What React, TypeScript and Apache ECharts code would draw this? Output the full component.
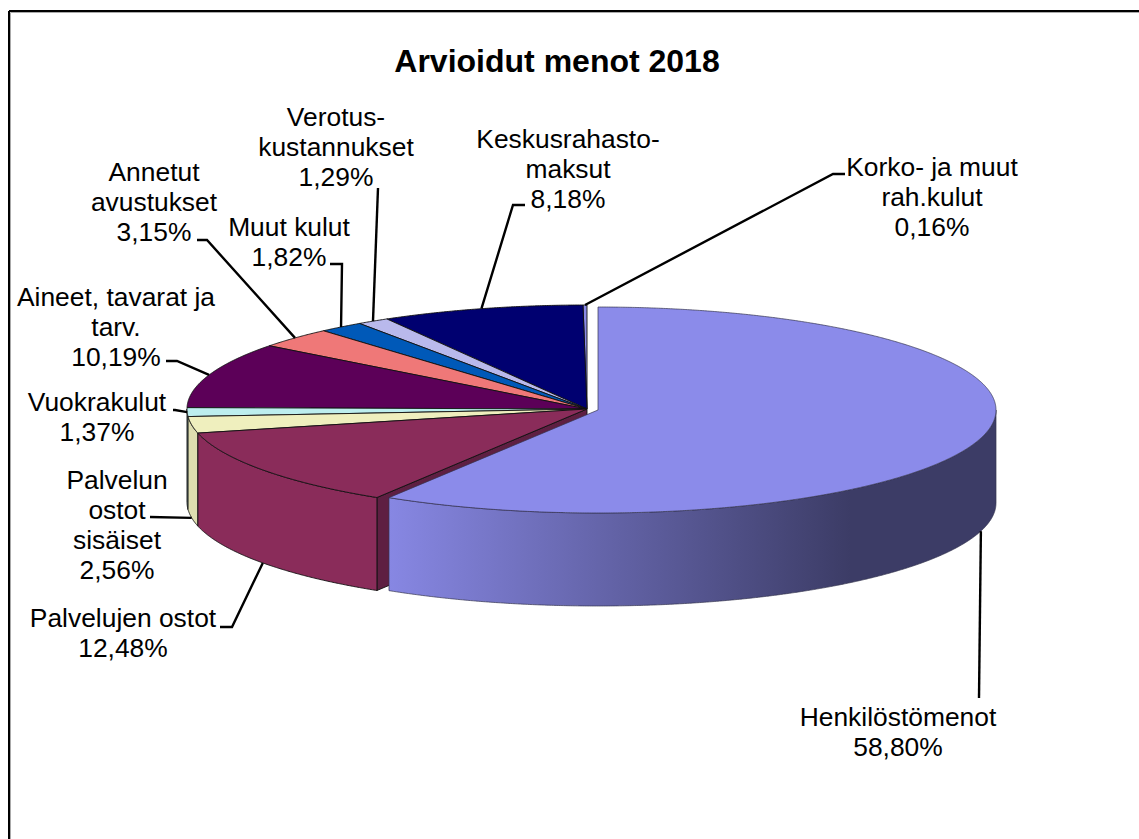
import React, { useEffect, useRef } from "react";
import * as echarts from "echarts";

const TITLE = "Arvioidut menot 2018";
const categories = [
  "Henkilöstömenot",
  "Palvelujen ostot",
  "Palvelun\nostot\nsisäiset",
  "Vuokrakulut",
  "Aineet, tavarat ja\ntarv.",
  "Annetut\navustukset",
  "Muut kulut",
  "Verotus-\nkustannukset",
  "Keskusrahasto-\nmaksut",
  "Korko- ja muut\nrah.kulut",
];
const values = [58.8, 12.48, 2.56, 1.37, 10.19, 3.15, 1.82, 1.29, 8.18, 0.16];
const topColors = ["#8b8bea", "#8a2c5a", "#efefbe", "#bdeeee", "#5c0058", "#ef7878", "#0059b8", "#b9b9ec", "#000070", "#8a8ae6"];
const wallColors = ["", "#8a2c5a", "#dedeb0", "#a8d4d4", "#4e004a", "#cc6666", "#004c9c", "#9d9dc8", "#000060", "#7575c4"];

// layout of the labels: [centre x, first line centre y]
const labelPos: [number, number][] = [
  [898, 717], [123, 618], [117, 480], [97, 402], [116, 297],
  [154, 172], [289, 227], [336, 117], [568, 139], [932, 167],
];
// leader lines: elbow points from the slice rim out to the label
const elbows: [number, number][][] = [
  [[979, 698]],
  [[232, 627], [220, 627]],
  [[150, 517]],
  [[175, 410], [173, 410]],
  [[177, 361], [166, 361]],
  [[207, 240], [197, 240]],
  [[342, 264], [330, 264]],
  [[378, 188]],
  [[513, 205], [525, 205]],
  [[833, 174], [845, 174]],
];

const DEPTH = 93;
const LINE_H = 30;
const FONT = '"Liberation Sans", Arial, sans-serif';

const total = values.reduce((a, b) => a + b, 0);
const starts: number[] = [];
values.reduce((acc, v, i) => { starts[i] = acc; return acc + v; }, 0);
const toDeg = (v: number) => (v / total) * 360;

const geom = (i: number) =>
  i === 0 ? { cx: 598, cy: 410, rx: 398, ry: 103 } : { cx: 587, cy: 409, rx: 400, ry: 104 };
const rim = (i: number, deg: number, dy = 0): [number, number] => {
  const { cx, cy, rx, ry } = geom(i);
  const a = (deg * Math.PI) / 180;
  return [cx + rx * Math.sin(a), cy - ry * Math.cos(a) + dy];
};
const arc = (i: number, from: number, to: number, dy = 0) => {
  const pts: [number, number][] = [];
  const n = Math.max(2, Math.ceil((to - from) / 0.25));
  for (let k = 0; k <= n; k++) pts.push(rim(i, from + ((to - from) * k) / n, dy));
  return pts;
};

function renderSlice(params: any, api: any) {
  const i = api.value(0) as number;
  const a0 = toDeg(starts[i]);
  const a1 = a0 + toDeg(api.value(1) as number);
  const { cx, cy } = geom(i);
  const children: any[] = [];
  const line = i === 0 ? "#33334d" : "#111";
  const lw = i === 0 ? 0.7 : 0.9;
  // cut face of the remaining pie, seen where the big slice was pulled out
  if (i === 1) {
    const p = rim(i, a0);
    children.push({
      type: "polygon",
      shape: { points: [[cx, cy], p, [p[0], p[1] + DEPTH], [cx, cy + DEPTH]] },
      style: { fill: "#5e1f42", stroke: "#111", lineWidth: 0.9 },
    });
  }
  const w0 = Math.max(a0, 90), w1 = Math.min(a1, 270);
  if (w1 > w0) {
    const top = arc(i, w0, w1);
    const bottom = arc(i, w0, w1, DEPTH).reverse();
    const fill = i === 0
      ? new echarts.graphic.LinearGradient(0, 0, 1, 0, [
          { offset: 0, color: "#8787e3" },
          { offset: 0.76, color: "#3c3c66" },
          { offset: 1, color: "#3c3c66" },
        ])
      : wallColors[i];
    children.push({
      type: "polygon",
      shape: { points: [...top, ...bottom] },
      style: { fill, stroke: line, lineWidth: lw },
    });
  }
  children.push({
    type: "polygon",
    shape: { points: [[cx, cy], ...arc(i, a0, a1)] },
    style: { fill: topColors[i], stroke: line, lineWidth: lw },
  });
  return { type: "group", children };
}

function renderLabel(params: any, api: any) {
  const i = api.value(0) as number;
  const mid = toDeg(starts[i]) + toDeg(values[i]) / 2;
  const front = mid > 90 && mid < 265;
  const anchor = rim(i, mid, front ? DEPTH : 0);
  const [x, y] = labelPos[i];
  return {
    type: "group",
    children: [
      {
        type: "polyline",
        shape: { points: [anchor, ...elbows[i]] },
        style: { stroke: "#000", lineWidth: 2.4, fill: "none" },
      },
      {
        type: "text",
        style: {
          text: `${categories[i]}\n${values[i].toFixed(2).replace(".", ",")}%`,
          x,
          y: y - LINE_H / 2,
          align: "center",
          verticalAlign: "top",
          lineHeight: LINE_H,
          fontSize: 26.4,
          fontFamily: FONT,
          fill: "#000",
        },
      },
    ],
  };
}

export default function App() {
  const ref = useRef<HTMLDivElement>(null);
  useEffect(() => {
    const chart = echarts.init(ref.current!, undefined, { renderer: "svg" });
    const order = values.map((v, i) => [i, v]);
    chart.setOption({
      animation: false,
      backgroundColor: "#fff",
      title: {
        text: TITLE,
        left: 552,
        top: 40,
        textAlign: "center",
        textStyle: { fontFamily: FONT, fontSize: 32, fontWeight: "bold", color: "#000" },
      },
      graphic: [
        { type: "line", shape: { x1: 9, y1: 11, x2: 1139, y2: 11 }, style: { stroke: "#000", lineWidth: 2 } },
        { type: "line", shape: { x1: 9, y1: 11, x2: 9, y2: 839 }, style: { stroke: "#000", lineWidth: 2 } },
        { type: "line", shape: { x1: 10.5, y1: 12.5, x2: 1139, y2: 12.5 }, style: { stroke: "#aaa", lineWidth: 1 } },
        { type: "line", shape: { x1: 10.5, y1: 12.5, x2: 10.5, y2: 839 }, style: { stroke: "#aaa", lineWidth: 1 } },
      ],
      series: [
        {
          type: "custom",
          coordinateSystem: "none",
          renderItem: renderSlice,
          data: [...order].reverse(),
          silent: true,
          z: 2,
        },
        {
          type: "custom",
          coordinateSystem: "none",
          renderItem: renderLabel,
          data: order,
          silent: true,
          z: 3,
        },
      ],
    });
    return () => chart.dispose();
  }, []);
  return <div ref={ref} style={{ position: "absolute", left: 0, top: 0, width: 1139, height: 839 }} />;
}
